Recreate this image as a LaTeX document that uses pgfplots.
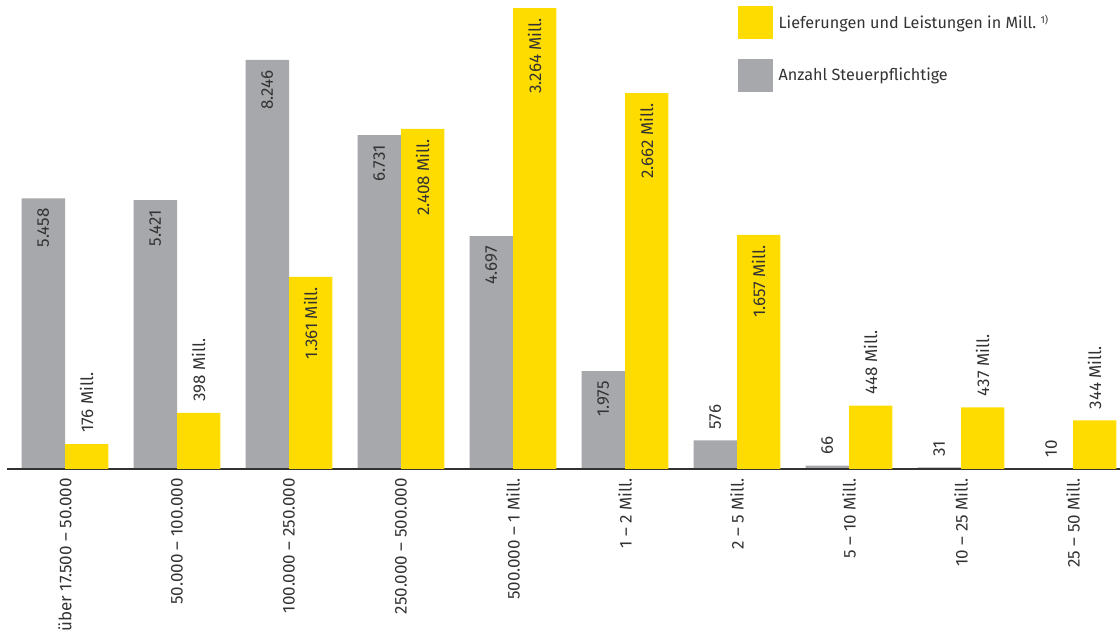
\documentclass[border=0pt]{standalone}
\usepackage{fontspec}
\setmainfont{Fira Sans}
\usepackage{pgfplots}
\pgfplotsset{compat=1.18}
\definecolor{ylw}{HTML}{FFDC00}
\definecolor{gry}{HTML}{A7A8AB}
\definecolor{txt}{HTML}{333333}
\newcommand{\fs}{\fontsize{16.2}{19}\selectfont}
\newcommand{\fsb}{\fontsize{17}{20}\selectfont}
\pgfplotsset{
  base/.style={at={(7pt,167pt)}, anchor=south west, scale only axis,
    width=1113pt, height=469pt, xmin=-0.518, xmax=9.42, ymin=0, clip=false,
    bar width=0.388, font=\fs,
    /pgf/number format/fixed, /pgf/number format/precision=0,
    /pgf/number format/1000 sep={.},
    /pgf/number format/assume math mode=true},
  inlab/.style 2 args={nodes near coords={\pgfmathprintnumber{\pgfplotspointmeta}#2}, point meta=y,
    every node near coord/.append style={xshift=#1, rotate=90, anchor=east, inner xsep=10pt, inner ysep=0pt, text=txt, font=\fsb}},
  outlab/.style 2 args={nodes near coords={\pgfmathprintnumber{\pgfplotspointmeta}#2}, point meta=y,
    every node near coord/.append style={xshift=#1, rotate=90, anchor=west, inner xsep=11pt, inner ysep=0pt, text=txt, font=\fsb}},
}
\begin{document}
\begin{tikzpicture}[x=1pt,y=1pt]
\useasboundingbox (0,0) rectangle (1120,636);
% Anzahl Steuerpflichtige
\begin{axis}[base, ymax=9456, hide axis]
\addplot[ybar, bar shift=-0.194, fill=gry, draw=none, inlab={-21.7pt}{}]
  coordinates {(0,5458) (1,5421) (2,8246) (3,6731) (4,4697) (5,1975)};
\addplot[ybar, bar shift=-0.194, fill=gry, draw=none, outlab={-21.7pt}{}]
  coordinates {(6,576) (7,66) (8,31) (9,10)};
\end{axis}
% Lieferungen und Leistungen in Mill.
\begin{axis}[base, ymax=3321,
  axis x line=bottom, axis y line=none,
  axis line style={-, line width=2.2pt, draw=txt},
  xtick={0,...,9}, major tick length=0pt, xtick style={draw=none},
  xticklabels={über 17.500 – 50.000, 50.000 – 100.000, 100.000 – 250.000,
    250.000 – 500.000, 500.000 – 1 Mill., 1 – 2 Mill., 2 – 5 Mill.,
    5 – 10 Mill., 10 – 25 Mill., 25 – 50 Mill.},
  xticklabel style={rotate=90, anchor=east, inner xsep=9pt, inner ysep=0pt, text=txt, font=\fsb},
  legend style={at={(0.6568,0.987)}, anchor=north west, draw=none, fill=none,
    inner sep=0pt, row sep=20pt, /tikz/column sep=6pt,
    nodes={inner sep=0pt, text=txt}, font=\fs},
  legend cell align=left,
]
\addlegendimage{legend image code/.code={\fill[ylw] (0pt,-16pt) rectangle (34pt,16pt);}}
\addlegendentry{Lieferungen und Leistungen in Mill.~{\fontsize{10}{10}\selectfont\raisebox{5pt}{1)}}}
\addlegendimage{legend image code/.code={\fill[gry] (0pt,-16pt) rectangle (34pt,16pt);}}
\addlegendentry{Anzahl Steuerpflichtige}
\addplot[ybar, bar shift=0.194, fill=ylw, draw=none, outlab={21.7pt}{~Mill.}, forget plot]
  coordinates {(0,176) (1,398) (7,448) (8,437) (9,344)};
\addplot[ybar, bar shift=0.194, fill=ylw, draw=none, inlab={21.7pt}{~Mill.}, forget plot]
  coordinates {(2,1361) (3,2408) (4,3264) (5,2662) (6,1657)};
\end{axis}
\end{tikzpicture}
\end{document}
